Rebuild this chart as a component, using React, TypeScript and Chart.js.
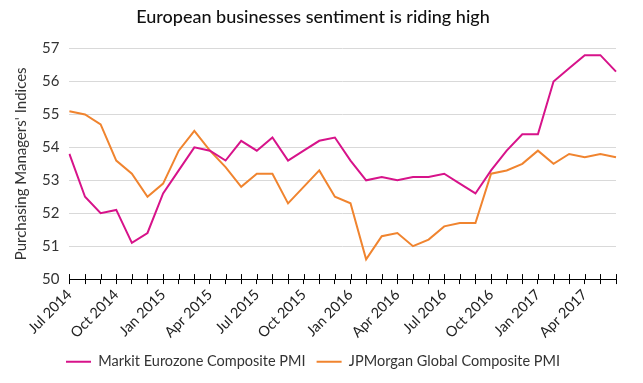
import React, { useEffect, useRef } from "react";
import { Chart, registerables } from "chart.js";

Chart.register(...registerables);

const months = [
  "Jul 2014", "Aug 2014", "Sep 2014", "Oct 2014", "Nov 2014", "Dec 2014",
  "Jan 2015", "Feb 2015", "Mar 2015", "Apr 2015", "May 2015", "Jun 2015",
  "Jul 2015", "Aug 2015", "Sep 2015", "Oct 2015", "Nov 2015", "Dec 2015",
  "Jan 2016", "Feb 2016", "Mar 2016", "Apr 2016", "May 2016", "Jun 2016",
  "Jul 2016", "Aug 2016", "Sep 2016", "Oct 2016", "Nov 2016", "Dec 2016",
  "Jan 2017", "Feb 2017", "Mar 2017", "Apr 2017", "May 2017", "Jun 2017",
];

const markitEurozone = [
  53.8, 52.5, 52.0, 52.1, 51.1, 51.4,
  52.6, 53.3, 54.0, 53.9, 53.6, 54.2,
  53.9, 54.3, 53.6, 53.9, 54.2, 54.3,
  53.6, 53.0, 53.1, 53.0, 53.1, 53.1,
  53.2, 52.9, 52.6, 53.3, 53.9, 54.4,
  54.4, 56.0, 56.4, 56.8, 56.8, 56.3,
];

const jpmGlobal = [
  55.1, 55.0, 54.7, 53.6, 53.2, 52.5,
  52.9, 53.9, 54.5, 53.9, 53.4, 52.8,
  53.2, 53.2, 52.3, 52.8, 53.3, 52.5,
  52.3, 50.6, 51.3, 51.4, 51.0, 51.2,
  51.6, 51.7, 51.7, 53.2, 53.3, 53.5,
  53.9, 53.5, 53.8, 53.7, 53.8, 53.7,
];

const seriesNames = ["Markit Eurozone Composite PMI", "JPMorgan Global Composite PMI"];
const titleText = "European businesses sentiment is riding high";
const yTitle = "Purchasing Managers' Indices";

const MAGENTA = "#d7138a";
const ORANGE = "#f0842f";
const FONT = "Lato, 'DejaVu Sans', sans-serif";

const crossTicks = {
  id: "crossTicks",
  afterDatasetsDraw(chart: any) {
    const x = chart.scales.x;
    const ctx = chart.ctx;
    const y0 = chart.chartArea.bottom;
    ctx.save();
    ctx.strokeStyle = "#000";
    ctx.lineWidth = 1;
    ctx.beginPath();
    for (let i = 0; i < months.length; i++) {
      const px = Math.round(x.getPixelForTick(i)) + 0.5;
      ctx.moveTo(px, y0 - 5);
      ctx.lineTo(px, y0);
    }
    ctx.stroke();
    ctx.restore();
  },
};

export default function App() {
  const ref = useRef<HTMLCanvasElement>(null);
  useEffect(() => {
    if (!ref.current) return;
    const chart = new Chart(ref.current, {
      type: "line",
      data: {
        labels: months,
        datasets: [
          {
            label: seriesNames[0],
            data: markitEurozone,
            borderColor: MAGENTA,
            backgroundColor: MAGENTA,
            borderWidth: 2,
            pointRadius: 0,
            tension: 0,
          },
          {
            label: seriesNames[1],
            data: jpmGlobal,
            borderColor: ORANGE,
            backgroundColor: ORANGE,
            borderWidth: 2,
            pointRadius: 0,
            tension: 0,
          },
        ],
      },
      plugins: [crossTicks],
      options: {
        animation: false,
        responsive: false,
        maintainAspectRatio: false,
        layout: { padding: { left: 10, right: 27, top: 0, bottom: 4 } },
        plugins: {
          title: {
            display: true,
            text: titleText,
            color: "#111",
            font: { family: FONT, size: 18, weight: "500" },
            padding: { top: 6, bottom: 21 },
          },
          legend: {
            position: "bottom",
            labels: {
              color: "#333",
              font: { family: FONT, size: 14.5 },
              boxWidth: 25,
              boxHeight: 2,
              padding: 11,
              generateLabels: (chart: any) =>
                chart.data.datasets.map((ds: any, i: number) => ({
                  text: ds.label,
                  fillStyle: ds.borderColor,
                  strokeStyle: ds.borderColor,
                  lineWidth: 0,
                  hidden: false,
                  datasetIndex: i,
                  fontColor: "#333",
                })),
            },
          },
          tooltip: { enabled: false },
        },
        scales: {
          x: {
            offset: false,
            grid: {
              display: true,
              drawOnChartArea: false,
              drawTicks: true,
              tickLength: 5,
              color: "#000",
            },
            border: { display: true, color: "#000", width: 1 },
            ticks: {
              autoSkip: false,
              maxRotation: 45,
              minRotation: 45,
              color: "#222",
              font: { family: FONT, size: 14.5 },
              padding: 2,
              callback: (_v: any, i: number) => (i % 3 === 0 ? months[i] : ""),
            },
          },
          y: {
            min: 50,
            max: 57,
            grid: { color: "#d9d9d9", drawTicks: false },
            border: { display: false },
            ticks: {
              stepSize: 1,
              color: "#333",
              font: { family: FONT, size: 15 },
              padding: 10,
            },
            title: {
              display: true,
              text: yTitle,
              color: "#333",
              font: { family: FONT, size: 15 },
              padding: 2,
            },
          },
        },
      },
    });
    return () => chart.destroy();
  }, []);
  return (
    <div style={{ position: "fixed", left: 0, top: 0, width: 643, height: 383, background: "#fff" }}>
      <canvas ref={ref} width={643} height={383} style={{ width: 643, height: 383 }} />
    </div>
  );
}
